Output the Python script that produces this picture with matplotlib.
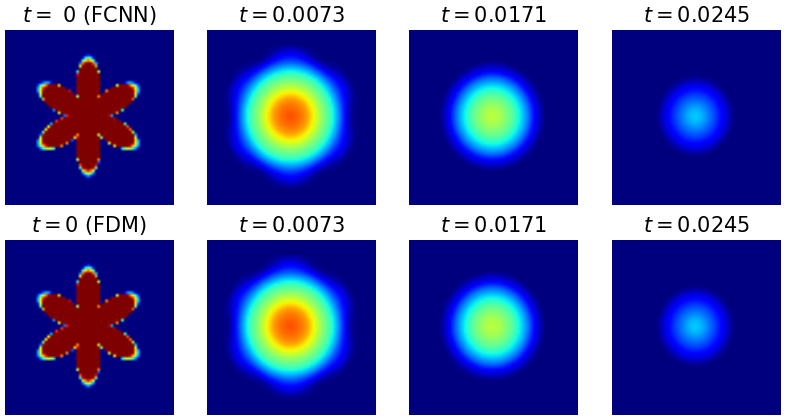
import matplotlib
matplotlib.use('Agg')
import matplotlib.pyplot as plt
import numpy as np

# the cell values of the heat maps can't be read one by one, so each panel is
# rebuilt on a 64x64 grid from the radial readings below (an approximation,
# and the FCNN and FDM rows share the same readings)

titles_top = ['$t = $ 0 (FCNN)', '$t = 0.0073$', '$t = 0.0171$', '$t = 0.0245$']
titles_bottom = ['$t = 0$ (FDM)', '$t = 0.0073$', '$t = 0.0171$', '$t = 0.0245$']

# star outline: angle away from a lobe (deg),
# outer radius (axes fraction), how wide the edge looks there
star_angle = [0, 3.5, 6.5, 10, 13.8, 18, 20, 24, 27, 30]
star_radius = [0.355, 0.348, 0.332, 0.302, 0.268, 0.235, 0.215, 0.182, 0.16, 0.14]
star_edge = [0.05, 0.05, 0.04, 0.025, 0.015, 0.015, 0.015, 0.015, 0.02, 0.03]

# readings along the lobe and valley directions, radius / value
r_0073_lobe = [0, 0.06, 0.10, 0.135, 0.19, 0.24, 0.258, 0.30, 0.345, 0.385, 0.41]
v_0073_lobe = [0.83, 0.79, 0.74, 0.65, 0.52, 0.42, 0.36, 0.23, 0.12, 0.05, 0.0]
r_0073_valley = [0, 0.06, 0.10, 0.135, 0.19, 0.24, 0.258, 0.296, 0.325, 0.355, 0.38]
v_0073_valley = [0.83, 0.79, 0.74, 0.65, 0.52, 0.42, 0.36, 0.23, 0.12, 0.03, 0.0]

r_0171 = [0, 0.05, 0.118, 0.166, 0.22, 0.254, 0.285, 0.312]
v_0171 = [0.58, 0.55, 0.46, 0.36, 0.22, 0.11, 0.05, 0.0]

r_0245 = [0, 0.04, 0.09, 0.13, 0.165, 0.20, 0.23]
v_0245 = [0.33, 0.30, 0.23, 0.17, 0.11, 0.05, 0.0]

n = 64
xs = (np.arange(n) + 0.5) / n - 0.493
ys = (np.arange(n) + 0.5) / n - 0.505
xx, yy = np.meshgrid(xs, ys)
rr = np.hypot(xx, yy)
# 0 on a lobe, 30 in a valley
ang = np.degrees(np.arctan2(xx, yy)) % 60
ang = np.minimum(ang, 60 - ang)


def star_field():
    outer = np.interp(ang, star_angle, star_radius)
    edge = np.interp(ang, star_angle, star_edge)
    return np.clip((outer - rr) / edge, 0, 1)


def blurred_field(r1, v1, r2, v2):
    lobe = np.interp(rr, r1, v1)
    valley = np.interp(rr, r2, v2)
    w = (1 + np.cos(np.radians(ang * 6))) / 2
    return w * lobe + (1 - w) * valley


fields = [star_field(),
          blurred_field(r_0073_lobe, v_0073_lobe, r_0073_valley, v_0073_valley),
          blurred_field(r_0171, v_0171, r_0171, v_0171),
          blurred_field(r_0245, v_0245, r_0245, v_0245)]

W, H = 788, 420
fig = plt.figure(figsize=(W / 100, H / 100), dpi=100)

lefts = [5, 207, 409, 612]
tops = [30, 240]
for row, titles in zip(tops, [titles_top, titles_bottom]):
    for i in range(4):
        ax = fig.add_axes([lefts[i] / W, 1 - (row + 175) / H, 169 / W, 175 / H])
        ax.imshow(fields[i], cmap='jet', vmin=0, vmax=1, origin='lower',
                  aspect='auto', interpolation='bilinear')
        ax.set_title(titles[i], fontsize=15)
        ax.axis('off')

fig.savefig('out.png', dpi=100)
